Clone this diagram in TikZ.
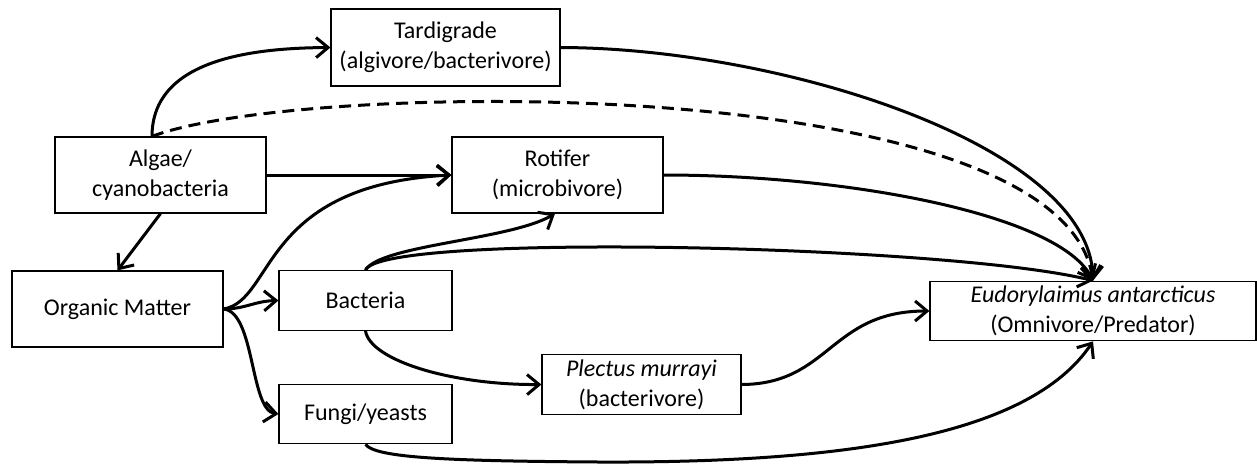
\documentclass[tikz,border=0pt]{standalone}
\usepackage{fontspec}
\setmainfont{Carlito}
\usetikzlibrary{arrows.meta}
\begin{document}
\begin{tikzpicture}[x=0.5pt, y=-0.5pt, font=\fontsize{12}{15}\selectfont,
    >={Straight Barb[length=6pt,width=10pt]},
    link/.style={->, line width=1.5pt},
    taxon/.style={draw, line width=0.6pt, align=center, inner sep=0pt},
    bigbox/.style={taxon, minimum width=105.5pt, minimum height=38pt},
    smallbox/.style={taxon, minimum height=29.75pt}]
  \useasboundingbox (0,0) rectangle (1257,463);
  \node[taxon, minimum width=114.5pt, minimum height=38.5pt] (tardi) at (445.5,47.5) {Tardigrade\\(algivore/bacterivore)};
  \node[bigbox] (algae)   at (160.5,175) {Algae/\\cyanobacteria};
  \node[bigbox] (rotif)   at (557.5,175) {Rotifer\\(microbivore)};
  \node[bigbox] (organic) at (117.5,309) {Organic Matter};
  \node[smallbox, minimum width=86.5pt] (bact)    at (365.5,300.5) {Bacteria};
  \node[smallbox, minimum width=86.5pt] (fungi)   at (365.5,414)   {Fungi/yeasts};
  \node[smallbox, minimum width=99.5pt] (plectus) at (641.5,384.5) {\textit{Plectus murrayi}\\(bacterivore)};
  \node[smallbox, minimum width=163pt]  (eudor)   at (1093,311)    {\textit{Eudorylaimus antarcticus}\\(Omnivore/Predator)};
  % algae
  \draw[link] ([xshift=-4.25pt]algae.north) .. controls (152,60) and (250,48) .. (tardi.west);
  \draw[link, dash pattern=on 6pt off 3.5pt] ([xshift=-4.25pt]algae.north) .. controls (300,80) and (1060,70) .. (eudor.north);
  \draw[link] (algae.east) -- (rotif.west);
  \draw[link] (algae.south) -- (organic.north);
  % organic matter
  \draw[link] (organic.east) .. controls (275,300) and (260,185) .. (rotif.west);
  \draw[link] (organic.east) .. controls (245,309) and (255,301) .. (bact.west);
  \draw[link] (organic.east) .. controls (255,312) and (250,410) .. (fungi.west);
  % bacteria
  \draw[link] (bact.north) .. controls (380,245) and (510,240) .. ([xshift=-1.25pt]rotif.south);
  \draw[link] (bact.north) .. controls (380,232) and (950,245) .. (eudor.north);
  \draw[link] (bact.south) .. controls (370,360) and (450,385) .. (plectus.west);
  % to the omnivore
  \draw[link] (tardi.east) .. controls (780,48) and (1090,145) .. (eudor.north);
  \draw[link] (rotif.east) .. controls (850,175) and (1060,215) .. (eudor.north);
  \draw[link] (plectus.east) .. controls (830,384) and (830,311) .. (eudor.west);
  \draw[link] (fungi.south) .. controls (375,458) and (450,461) .. (600,462)
    .. controls (850,463) and (1030,435) .. (eudor.south);
\end{tikzpicture}
\end{document}
